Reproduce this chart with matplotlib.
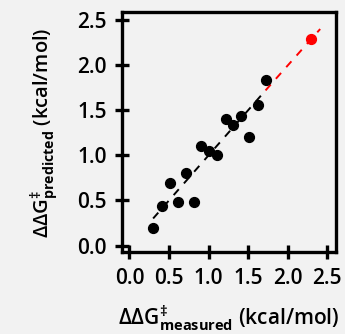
import matplotlib
matplotlib.use("Agg")
import matplotlib.pyplot as plt

measured = [0.30, 0.41, 0.51, 0.62, 0.72, 0.81, 0.905, 1.01, 1.11, 1.22, 1.31, 1.41, 1.51, 1.62, 1.72]
predicted = [0.19, 0.44, 0.69, 0.48, 0.80, 0.48, 1.10, 1.05, 1.00, 1.40, 1.34, 1.44, 1.20, 1.56, 1.835]
new_measured = [2.30]
new_predicted = [2.29]
fit_x = [0.30, 1.72]
fit_y = [0.30, 1.72]
ext_x = [1.72, 2.41]
ext_y = [1.72, 2.40]
ticks = [0.0, 0.5, 1.0, 1.5, 2.0, 2.5]

plt.rcParams['font.family'] = ['Open Sans', 'DejaVu Sans']
plt.rcParams['font.weight'] = 600
plt.rcParams['axes.labelweight'] = 600
plt.rcParams['mathtext.fontset'] = 'custom'
plt.rcParams['mathtext.rm'] = 'Open Sans:semibold'
plt.rcParams['mathtext.bf'] = 'Open Sans:bold'
plt.rcParams['mathtext.it'] = 'Open Sans:semibold'

bg = '#f2f2f2'
fig = plt.figure(figsize=(3.45, 3.34), dpi=100, facecolor=bg)
ax = fig.add_axes([0.353, 0.2446, 0.620, 0.7184], facecolor=bg)

ax.plot(fit_x, fit_y, '--', color='black', lw=1.4, dashes=(4, 4))
ax.plot(ext_x, ext_y, '--', color='red', lw=1.4, dashes=(4, 4))
ax.scatter(measured, predicted, s=50, color='black', zorder=3)
ax.scatter(new_measured, new_predicted, s=50, color='red', zorder=3)

ax.set_xlim(-0.096, 2.606)
ax.set_ylim(-0.075, 2.585)
ax.set_xticks(ticks)
ax.set_yticks(ticks)
ax.set_xticklabels([f'{t:.1f}' for t in ticks])
ax.set_yticklabels([f'{t:.1f}' for t in ticks])

for s in ax.spines.values():
    s.set_linewidth(2.4)
ax.tick_params(direction='inout', length=10, width=2.4, labelsize=15)
ax.tick_params(axis='x', pad=6)
ax.tick_params(axis='y', pad=6)

ax.set_xlabel(r'ΔΔG$^{\ddagger}_{\mathbf{measured}}$ (kcal/mol)', fontsize=15, labelpad=11)
ax.set_ylabel(r'ΔΔG$^{\ddagger}_{\mathbf{predicted}}$ (kcal/mol)', fontsize=14.5, labelpad=12)

fig.savefig('out.png', dpi=100, facecolor=bg)
